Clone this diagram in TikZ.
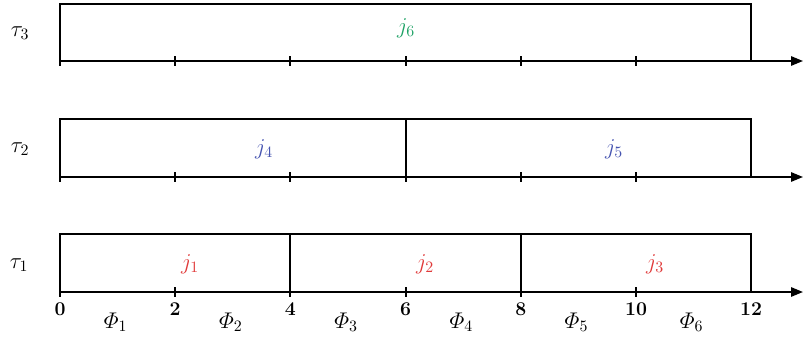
\documentclass[tikz,border=0pt]{standalone}
\usepackage{fix-cm}
\usepackage{amsmath}
\usetikzlibrary{arrows.meta}
\definecolor{jred}{HTML}{E03A3A}
\definecolor{jblue}{HTML}{4654B0}
\definecolor{jgreen}{HTML}{1FA266}
\begin{document}
\begin{tikzpicture}[x=0.75pt,y=-0.75pt,
  every node/.style={font=\fontsize{17}{20}\selectfont},
  axis/.style={line width=1.4pt,-{Triangle[length=9pt,width=7pt]}},
  jobbox/.style={line width=1.4pt},
  tick/.style={line width=1.4pt},
  lbl/.style={inner sep=0pt,anchor=center},
  num/.style={inner sep=0pt,anchor=center,font=\fontsize{14.6}{17}\selectfont\bfseries}]
\useasboundingbox (0,0) rectangle (803,336);
% axes
\foreach \n/\ay in {a3/61,a2/177,a1/292}{
  \coordinate (\n s) at (60,\ay);
  \coordinate (\n e) at (803,\ay);
  \draw[axis] (\n s) -- (\n e);
  \foreach \k in {0,2,4,6,8,10}{
    \coordinate (\n t\k a) at ({60+57.6*\k},{\ay-5});
    \coordinate (\n t\k b) at ({60+57.6*\k},{\ay+5});
    \draw[tick] (\n t\k a) -- (\n t\k b);
  }
}
% tau3 box
\coordinate (b3tl) at (60,4); \coordinate (b3br) at (751,61);
\draw[jobbox] (b3tl) rectangle (b3br);
% tau2 box
\coordinate (b2tl) at (60,119); \coordinate (b2br) at (751,177);
\draw[jobbox] (b2tl) rectangle (b2br);
\coordinate (d2a) at (405.6,119); \coordinate (d2b) at (405.6,177);
\draw[jobbox] (d2a) -- (d2b);
% tau1 box
\coordinate (b1tl) at (60,234); \coordinate (b1br) at (751,292);
\draw[jobbox] (b1tl) rectangle (b1br);
\coordinate (d1a) at (290.4,234); \coordinate (d1b) at (290.4,292);
\coordinate (d1c) at (520.8,234); \coordinate (d1d) at (520.8,292);
\draw[jobbox] (d1a) -- (d1b);
\draw[jobbox] (d1c) -- (d1d);
% task labels
\node[lbl] (t3) at (20,33) {$\tau_3$};
\node[lbl] (t2) at (20,149) {$\tau_2$};
\node[lbl] (t1) at (19,265) {$\tau_1$};
% job labels
\node[lbl,text=jgreen] (j6) at (406,28) {$j_6$};
\node[lbl,text=jblue] (j4) at (264,149) {$j_4$};
\node[lbl,text=jblue] (j5) at (614,149) {$j_5$};
\node[lbl,text=jred] (j1) at (190,264) {$j_1$};
\node[lbl,text=jred] (j2) at (425,264) {$j_2$};
\node[lbl,text=jred] (j3) at (655,264) {$j_3$};
% numbers
\foreach \k in {0,2,4,6,8,10,12}{
  \node[num] (n\k) at ({60+57.6*\k},309) {\k};
}
% phases
\foreach \i in {1,...,6}{
  \node[lbl] (p\i) at ({58+57.6*(2*\i-1)},322) {$\varPhi_{\i}$};
}
\end{tikzpicture}
\end{document}
